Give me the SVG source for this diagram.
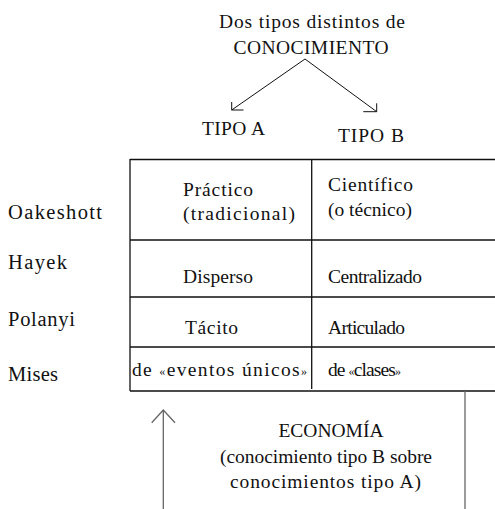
<svg xmlns="http://www.w3.org/2000/svg" width="495" height="509" viewBox="0 0 495 509">
<style>
text{font-family:"Liberation Serif","Times New Roman",Times,serif;font-size:19.5px;fill:#111;}
.lb{font-size:20.5px;}
.g{font-size:12px;}
.tl{stroke:#111;stroke-width:1.3;fill:none;}
.ar{stroke:#111;stroke-width:1;fill:none;}
.gr{stroke:#666;stroke-width:1.3;fill:none;}
</style>
<rect width="495" height="509" fill="#fff"/>
<g id="title">
<text x="312" y="28" text-anchor="middle" font-size="20" textLength="186">Dos tipos distintos de</text>
<text x="311" y="54" text-anchor="middle" textLength="155">CONOCIMIENTO</text>
</g>
<g id="tipoA"><text x="202" y="135" textLength="63">TIPO A</text></g>
<g id="tipoB"><text x="338" y="142" textLength="66">TIPO B</text></g>
<g id="table">
<path class="tl" d="M130,159.5H495M130,240H495M130,297H495M130,347H495M130,391H495M130,159V391M311.7,159V389"/>
</g>
<g id="labels">
<text class="lb" x="8" y="219" textLength="94">Oakeshott</text>
<text class="lb" x="8" y="269" textLength="59">Hayek</text>
<text class="lb" x="8" y="326" textLength="67">Polanyi</text>
<text class="lb" x="8" y="381" textLength="50">Mises</text>
</g>
<g id="cellA1"><text x="183" y="196" textLength="70">Práctico</text><text x="183" y="220" font-size="20.5" textLength="112">(tradicional)</text></g>
<g id="cellB1"><text x="328" y="191" textLength="85">Científico</text><text x="328" y="216" font-size="18.5">(o técnico)</text></g>
<g id="cellA2"><text x="183" y="283" textLength="70">Disperso</text></g>
<g id="cellB2"><text x="328" y="283" font-size="19" textLength="94">Centralizado</text></g>
<g id="cellA3"><text x="185" y="334" textLength="53">Tácito</text></g>
<g id="cellB3"><text x="328" y="334" font-size="18.5" textLength="77">Articulado</text></g>
<g id="cellA4"><text x="132" y="376" font-size="20.5" textLength="175">de <tspan class="g" dy="-1.5">«</tspan><tspan dy="1.5">eventos únicos</tspan><tspan class="g" dy="-1.5">»</tspan></text></g>
<g id="cellB4"><text x="328" y="376" font-size="18.5" textLength="73">de <tspan class="g" dy="-1.5">«</tspan><tspan dy="1.5">clases</tspan><tspan class="g" dy="-1.5">»</tspan></text></g>
<g id="economia">
<text x="331" y="437" text-anchor="middle" font-size="18">ECONOMÍA</text>
<text x="326" y="463" text-anchor="middle" textLength="212">(conocimiento tipo B sobre</text>
<text x="325.5" y="488" text-anchor="middle" textLength="191">conocimientos tipo A)</text>
</g>
<g id="connectors">
<path class="ar" d="M305,59L231.7,110M231.7,102V110H243.5"/>
<path class="ar" d="M305,59L376.7,111.7M363.3,111.7H376.7V103.3"/>
<path class="gr" d="M163.3,509V410M151.7,422.7L163.3,410L175,422.7"/>
<path class="gr" d="M465,391V509"/>
</g>
</svg>
